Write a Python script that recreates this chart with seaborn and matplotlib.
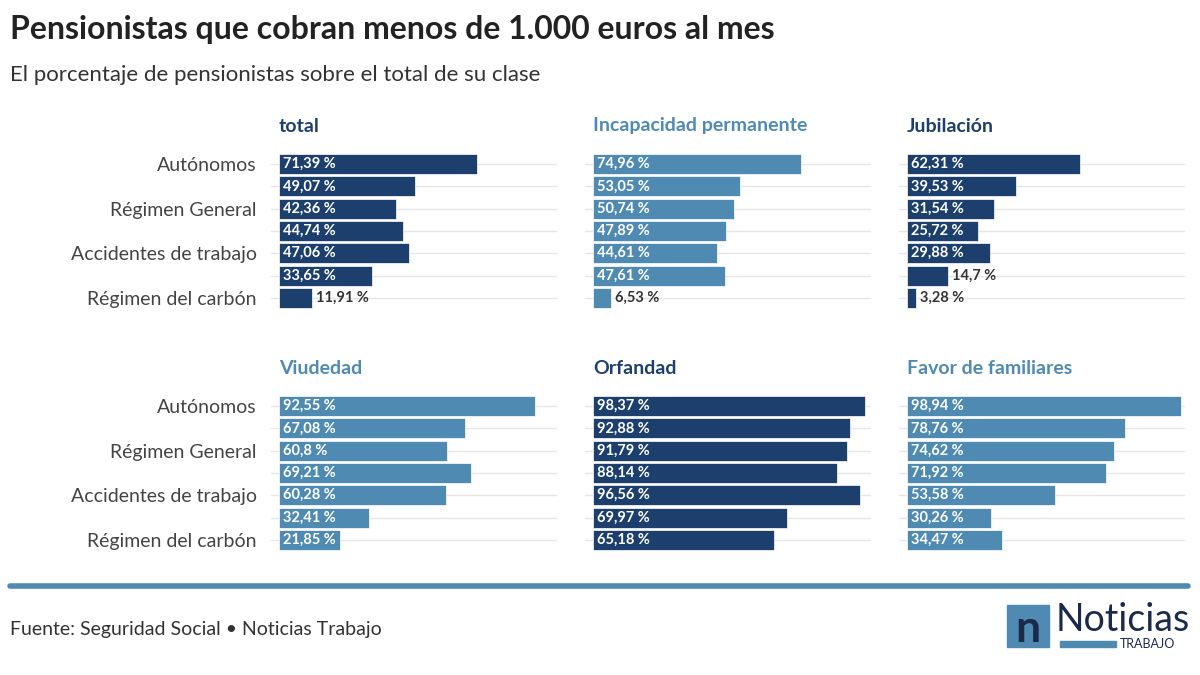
import matplotlib
matplotlib.use("Agg")
import matplotlib.pyplot as plt
import seaborn as sns
import pandas as pd
from matplotlib.patches import Rectangle

sns.set_theme(style="white")
plt.rcParams['font.family'] = ['Lato', 'DejaVu Sans']

# categories (only every other label is shown in the original)
categories = ["Autónomos", "Trabajadores del mar", "Régimen General", "Enfermedades profesionales",
              "Accidentes de trabajo", "SOVI", "Régimen del carbón"]
shown = ["Autónomos", "", "Régimen General", "", "Accidentes de trabajo", "", "Régimen del carbón"]

total = [71.39, 49.07, 42.36, 44.74, 47.06, 33.65, 11.91]
incapacidad = [74.96, 53.05, 50.74, 47.89, 44.61, 47.61, 6.53]
jubilacion = [62.31, 39.53, 31.54, 25.72, 29.88, 14.7, 3.28]
viudedad = [92.55, 67.08, 60.8, 69.21, 60.28, 32.41, 21.85]
orfandad = [98.37, 92.88, 91.79, 88.14, 96.56, 69.97, 65.18]
favor = [98.94, 78.76, 74.62, 71.92, 53.58, 30.26, 34.47]

dark = "#1d3f6e"
light = "#4f8ab3"

panels = [
    ("total", total, dark), ("Incapacidad permanente", incapacidad, light), ("Jubilación", jubilacion, dark),
    ("Viudedad", viudedad, light), ("Orfandad", orfandad, dark), ("Favor de familiares", favor, light),
]

fig = plt.figure(figsize=(12, 6.75), dpi=100)
lefts = [279, 593, 907]
tops = [153, 395]

def fmt(v):
    s = f"{v:.2f}".rstrip("0").rstrip(".")
    return s.replace(".", ",") + " %"

for i, (name, vals, col) in enumerate(panels):
    r, c = divmod(i, 3)
    x0 = lefts[c]
    y0 = tops[r]
    ax = fig.add_axes([x0 / 1200, 1 - (y0 + 156) / 675, 277 / 1200, 156 / 675])
    df = pd.DataFrame({"cat": categories, "val": vals})
    sns.barplot(data=df, y="cat", x="val", color=col, saturation=1, width=0.9, ax=ax, orient="h")
    for p in ax.patches:
        p.set_edgecolor("white")
        p.set_linewidth(0.5)
    ax.set_xlim(0, 100)
    ax.set_ylim(6.5, -0.5)
    for k in range(7):
        ax.plot([-3, 100], [k, k], color="#e6e6e6", lw=1, zorder=0, clip_on=False)
    for k, v in enumerate(vals):
        if v > 20:
            ax.text(1.5, k, fmt(v), color="white", fontsize=10.5, fontweight="bold", va="center", ha="left")
        else:
            ax.text(v + 1.5, k, fmt(v), color="#333333", fontsize=10.5, fontweight="bold", va="center", ha="left")
    ax.set_xlabel("")
    ax.set_ylabel("")
    ax.set_xticks([])
    if c == 0:
        ax.set_yticks(range(7))
        ax.set_yticklabels(shown, fontsize=14, color="#444444")
        ax.tick_params(axis="y", length=0, pad=16)
    else:
        ax.set_yticks([])
    for s in ax.spines.values():
        s.set_visible(False)
    fig.text(x0 / 1200, 1 - (y0 - 27) / 675, name, fontsize=14, fontweight="bold", color=col, va="center")

fig.text(10 / 1200, 1 - 30 / 675, "Pensionistas que cobran menos de 1.000 euros al mes",
         fontsize=23, fontweight="bold", color="#222222", va="center")
fig.text(10 / 1200, 1 - 75 / 675, "El porcentaje de pensionistas sobre el total de su clase",
         fontsize=16, color="#333333", va="center")
fig.add_artist(plt.Line2D([10 / 1200, 1188 / 1200], [1 - 586 / 675] * 2, color=light, lw=4))
fig.text(10 / 1200, 1 - 630 / 675, "Fuente: Seguridad Social • Noticias Trabajo",
         fontsize=14, color="#333333", va="center")

# logo
fig.add_artist(Rectangle((1007 / 1200, 1 - 647 / 675), 42 / 1200, 42 / 675, color=light))
fig.text(1028 / 1200, 1 - 629 / 675, "n", fontsize=32, fontweight="bold", color="#1b2a4a", ha="center", va="center")
fig.text(1056 / 1200, 1 - 620 / 675, "Noticias", fontsize=27, color="#1b2a4a", va="center")
fig.add_artist(Rectangle((1060 / 1200, 1 - 647 / 675), 56 / 1200, 6 / 675, color=light))
fig.text(1120 / 1200, 1 - 644 / 675, "TRABAJO", fontsize=9, color="#1b2a4a", va="center")

fig.savefig("out.png", dpi=100, facecolor="white")
